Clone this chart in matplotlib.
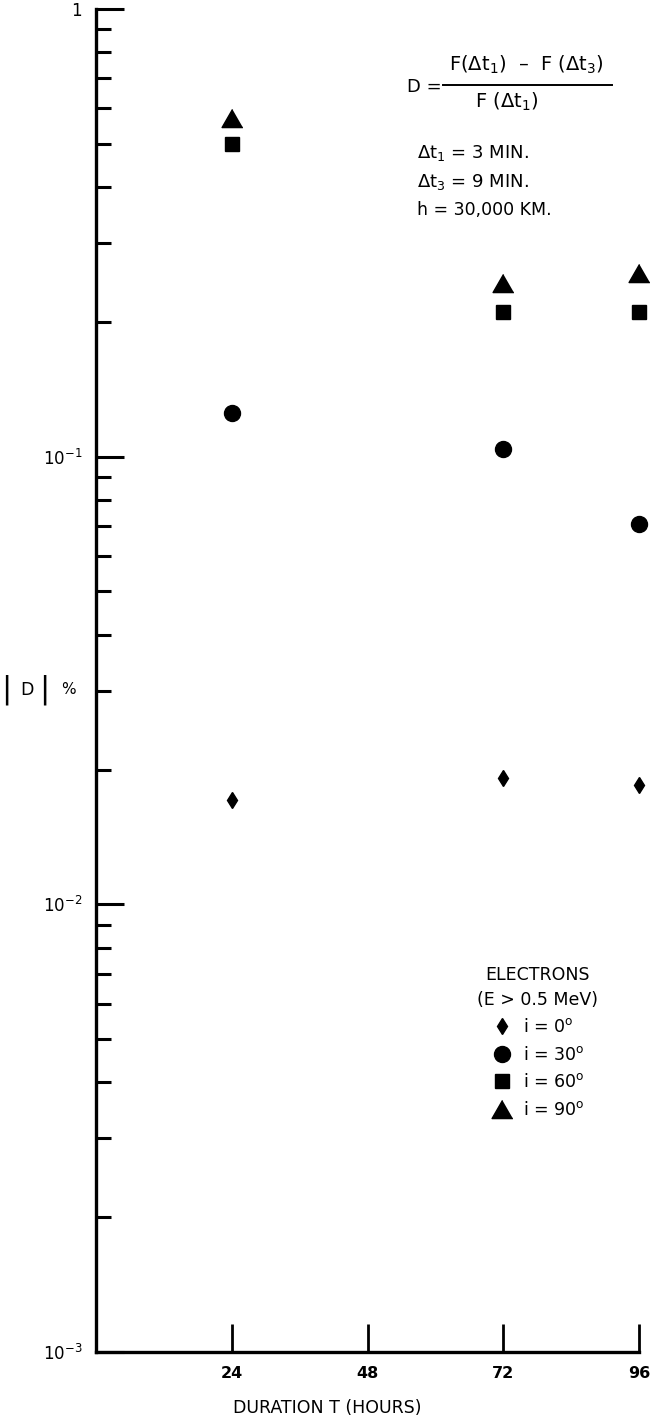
import numpy as np
import matplotlib
matplotlib.use("Agg")
import matplotlib.pyplot as plt
from matplotlib.lines import Line2D
from matplotlib.ticker import LogLocator, FixedLocator, NullFormatter

# |D| in percent vs. duration, electrons E > 0.5 MeV
hours = [24, 72, 96]
d_i0 = [0.0171, 0.0192, 0.0185]
d_i30 = [0.125, 0.104, 0.0708]
d_i60 = [0.50, 0.21, 0.21]
d_i90 = [0.57, 0.244, 0.257]

x_ticks = [24, 48, 72, 96]
y_ticks = [1e-3, 1e-2, 1e-1, 1]
y_ticklabels = [r"10$^{-3}$", r"10$^{-2}$", r"10$^{-1}$", "1"]

plt.rcParams["font.family"] = ["DejaVu Sans"]

W, H = 652, 1415
fig = plt.figure(figsize=(W / 100, H / 100), dpi=100)
ax = fig.add_axes([96 / W, 1 - 1352 / H, (639 - 96) / W, (1352 - 9) / H])

tri = [(0, 0.87), (-1, -0.87), (1, -0.87)]
ax.plot(hours, d_i0, ls="none", marker="d", ms=8.6, color="black", label=r"i = 0$^{\mathrm{o}}$", clip_on=False)
ax.plot(hours, d_i30, ls="none", marker="o", ms=11.5, color="black", label=r"i = 30$^{\mathrm{o}}$", clip_on=False)
ax.plot(hours, d_i60, ls="none", marker="s", ms=10.5, color="black", label=r"i = 60$^{\mathrm{o}}$", clip_on=False)
ax.plot(hours, d_i90, ls="none", marker=tri, ms=15, color="black", label=r"i = 90$^{\mathrm{o}}$", clip_on=False)

ax.set_yscale("log")
ax.set_ylim(1e-3, 1)
ax.set_xlim(0, 96)

ax.yaxis.set_major_locator(FixedLocator(y_ticks))
ax.set_yticklabels(y_ticklabels, fontsize=12)
ax.yaxis.set_minor_locator(LogLocator(base=10, subs=np.arange(2, 10)))
ax.yaxis.set_minor_formatter(NullFormatter())
ax.tick_params(axis="y", which="major", direction="in", length=20, width=2.2, pad=10)
ax.tick_params(axis="y", which="minor", direction="in", length=11, width=2.2)

ax.set_xticks(x_ticks)
ax.set_xticklabels([str(t) for t in x_ticks], fontsize=11.5, fontweight="bold")
ax.tick_params(axis="x", which="major", direction="in", length=20, width=2, pad=10)
ax.tick_params(axis="x", which="minor", bottom=False)

for side in ("top", "right"):
    ax.spines[side].set_visible(False)
for side in ("left", "bottom"):
    ax.spines[side].set_linewidth(2.4)

ax.set_xlabel("DURATION T (HOURS)", fontsize=12.5)
ax.xaxis.set_label_coords((327 - 96) / 543, -47 / 1343)

# |D| % label on the left
fig.text(6 / W, 1 - 690 / H, "|", fontsize=22, ha="center", va="center")
fig.text(27 / W, 1 - 690 / H, "D", fontsize=12.5, ha="center", va="center")
fig.text(44 / W, 1 - 690 / H, "|", fontsize=22, ha="center", va="center")
fig.text(68 / W, 1 - 690 / H, "%", fontsize=11, ha="center", va="center")

# definition of D: numerator, bar, denominator
fig.text(407 / W, 1 - 87 / H, "D =", fontsize=13, ha="left", va="center")
fig.text(526 / W, 1 - 65 / H, r"F($\Delta$t$_1$)  –  F ($\Delta$t$_3$)",
         fontsize=14, ha="center", va="center")
fig.add_artist(Line2D([443 / W, 612 / W], [1 - 85 / H, 1 - 85 / H],
                      transform=fig.transFigure, color="black", lw=1.4))
fig.text(507 / W, 1 - 102 / H, r"F ($\Delta$t$_1$)", fontsize=14, ha="center", va="center")

# run parameters
fig.text(417 / W, 1 - 153 / H, r"$\Delta$t$_1$ = 3 MIN.", fontsize=13, ha="left", va="center")
fig.text(417 / W, 1 - 182 / H, r"$\Delta$t$_3$ = 9 MIN.", fontsize=13, ha="left", va="center")
fig.text(417 / W, 1 - 210 / H, "h = 30,000 KM.", fontsize=12.5, ha="left", va="center")

leg = ax.legend(title="ELECTRONS\n(E > 0.5 MeV)", frameon=False, fontsize=12.5,
                title_fontsize=12.5, loc="upper left",
                bbox_to_anchor=((468 - 96) / 543, (1352 - 957) / 1343),
                handlelength=1.4, handletextpad=0.5, labelspacing=0.55,
                borderpad=0, numpoints=1)
leg.get_title().set_multialignment("center")
leg.get_title().set_linespacing(1.5)

fig.savefig("out.png", dpi=100)
